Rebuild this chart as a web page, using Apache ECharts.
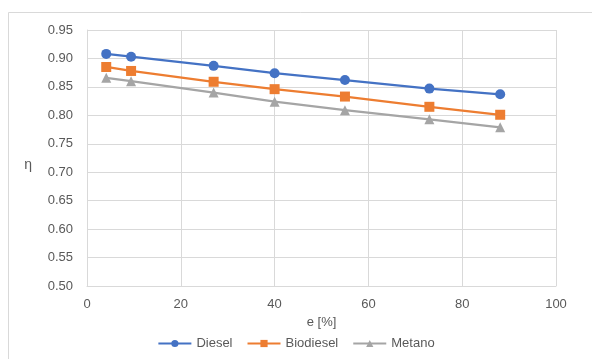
<!DOCTYPE html>
<html>
<head>
<meta charset="utf-8">
<script src="https://cdn.jsdelivr.net/npm/echarts@6/dist/echarts.min.js"></script>
<style>
html,body{margin:0;padding:0;background:#fff;}
#c{width:592px;height:359px;}
</style>
</head>
<body>
<div id="c"></div>
<script>
const eValues = [4.1, 9.4, 27.0, 40.0, 55.0, 73.0, 88.1];
const diesel = [0.908, 0.903, 0.887, 0.874, 0.862, 0.847, 0.837];
const biodiesel = [0.885, 0.878, 0.859, 0.846, 0.833, 0.815, 0.801];
const metano = [0.866, 0.860, 0.840, 0.824, 0.809, 0.793, 0.779];
const seriesNames = ['Diesel', 'Biodiesel', 'Metano'];

const pair = (ys) => eValues.map((x, i) => [x, ys[i]]);
const font = 'Liberation Sans, Arial, sans-serif';
const txt = '#595959';

const chart = echarts.init(document.getElementById('c'));
chart.setOption({
  animation: false,
  backgroundColor: '#fff',
  graphic: [
    { type: 'line', shape: { x1: 8.5, y1: 12.5, x2: 592, y2: 12.5 }, style: { stroke: '#D9D9D9', lineWidth: 1 } },
    { type: 'line', shape: { x1: 8.5, y1: 12.5, x2: 8.5, y2: 359 }, style: { stroke: '#D9D9D9', lineWidth: 1 } }
  ],
  grid: { left: 87, right: 36, top: 30, bottom: 73 },
  legend: {
    bottom: 4, left: 'center',
    itemWidth: 33, itemHeight: 9, itemGap: 14,
    textStyle: { fontFamily: font, fontSize: 13, color: txt },
    data: seriesNames
  },
  xAxis: {
    type: 'value', min: 0, max: 100, interval: 20,
    name: 'e [%]', nameLocation: 'middle', nameGap: 29,
    nameTextStyle: { fontFamily: font, fontSize: 13, color: txt },
    axisLine: { show: true, lineStyle: { color: '#D9D9D9' } },
    axisTick: { show: false },
    axisLabel: { fontFamily: font, fontSize: 13, color: txt, margin: 12 },
    splitLine: { show: true, lineStyle: { color: '#D9D9D9', width: 1 } }
  },
  yAxis: {
    type: 'value', min: 0.5, max: 0.95, interval: 0.05,
    name: 'η', nameLocation: 'middle', nameGap: 55, nameRotate: 0,
    nameTextStyle: { fontFamily: font, fontSize: 14, color: txt, verticalAlign: 'top' },
    axisLine: { show: true, lineStyle: { color: '#D9D9D9' } },
    axisTick: { show: false },
    axisLabel: { fontFamily: font, fontSize: 13, color: txt, margin: 14, formatter: v => v.toFixed(2) },
    splitLine: { show: true, lineStyle: { color: '#D9D9D9', width: 1 } }
  },
  series: [
    { name: seriesNames[0], type: 'line', data: pair(diesel), symbol: 'circle', symbolSize: 10,
      itemStyle: { color: '#4472C4' }, lineStyle: { color: '#4472C4', width: 2.25 } },
    { name: seriesNames[1], type: 'line', data: pair(biodiesel), symbol: 'rect', symbolSize: 10,
      itemStyle: { color: '#ED7D31' }, lineStyle: { color: '#ED7D31', width: 2.25 } },
    { name: seriesNames[2], type: 'line', data: pair(metano), symbol: 'triangle', symbolSize: 10,
      itemStyle: { color: '#A5A5A5' }, lineStyle: { color: '#A5A5A5', width: 2.25 } }
  ]
});
</script>
</body>
</html>
